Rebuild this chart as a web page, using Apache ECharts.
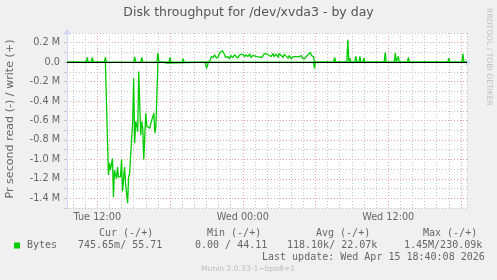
<!DOCTYPE html>
<html><head><meta charset="utf-8">
<script src="https://cdn.jsdelivr.net/npm/echarts@6/dist/echarts.min.js"></script>
<style>html,body{margin:0;padding:0;background:#f0f0f0}#c{width:497px;height:280px}</style>
</head><body><div id="c"></div>
<script>
// ---- data (x = 5-minute slot counted from Tue 00:00; y = bytes per second) ----
const chartTitle = 'Disk throughput for /dev/xvda3 - by day';
const yAxisTitle = 'Pr second read (-) / write (+)';
const xRange = [114, 510];                 // Tue 09:30 .. Wed 18:30
const xTickSlots = [144, 288, 432];
const xTickLabels = ['Tue 12:00', 'Wed 00:00', 'Wed 12:00'];
const yRange = [-1500000, 300000];
const yTickValues = [200000, 0, -200000, -400000, -600000, -800000, -1000000, -1200000, -1400000];
const yTickLabels = ['0.2 M', '0.0', '-0.2 M', '-0.4 M', '-0.6 M', '-0.8 M', '-1.0 M', '-1.2 M', '-1.4 M'];
const seriesName = 'Bytes';
const readPoints = [
  [114,0],[152,0],[153,0],[155,1160000],[156,1040000],[157,1110000],[159,990000],[160,1390000],
  [161,1110000],[163,1200000],[164,1080000],[165,1180000],[167,1180000],[168,1000000],[169,1330000],
  [171,1080000],[172,1250000],[174,1450000],[175,1180000],[176,1140000],[177,1130000],[179,610000],
  [180,165000],[181,835000],[182,610000],[183,646000],[184,715000],[185,97000],[187,750000],
  [188,610000],[189,680000],[190,1000000],[192,526000],[193,660000],[194,650000],[196,680000],
  [197,630000],[198,595000],[200,526000],[201,730000],[202,660000],[204,0],[209,0],[210,10000],
  [213,10000],[214,0],[251,0],[252,62000],[253,40000],[254,0],[358,0],[359,65000],[360,0],[510,0]
];
const writePoints = [
  [114,0],[133,0],[134,50000],[135,0],[138,0],[139,50000],[140,0],[151,0],[152,50000],[153,0],
  [180,0],[181,55000],[182,0],[187,0],[188,50000],[189,0],[203,0],[204,93000],[205,0],
  [215,0],[216,50000],[217,0],[228,0],[229,35000],[230,0],
  [254,0],[256,24000],[257,58000],[259,48000],[260,76000],[262,41000],[264,58000],[265,93000],
  [268,117000],[270,76000],[271,48000],[273,58000],[275,34000],[276,69000],[278,48000],[280,76000],
  [281,58000],[283,41000],[285,76000],[286,58000],[288,83000],[290,55000],[291,76000],[293,58000],
  [295,86000],[296,48000],[298,69000],[299,62000],[302,58000],[304,55000],[307,48000],[309,83000],
  [311,89000],[313,76000],[314,83000],[316,58000],[318,89000],[319,58000],[321,83000],[323,48000],
  [324,89000],[326,69000],[328,48000],[329,83000],[331,62000],[333,41000],[334,69000],[336,34000],
  [338,58000],[339,76000],[341,58000],[342,69000],[344,55000],[346,69000],[347,41000],[349,34000],
  [351,58000],[352,69000],[355,103000],[356,69000],[358,55000],[359,0],
  [378,0],[379,50000],[380,0],[391,0],[392,230000],[393,8000],[394,40000],[395,0],
  [399,0],[400,60000],[401,0],[403,0],[404,60000],[405,0],[407,0],[408,40000],[409,0],
  [428,0],[429,100000],[430,0],[438,0],[439,93000],[440,0],[441,0],[442,60000],[443,0],
  [451,0],[452,50000],[453,0],[491,0],[492,40000],[493,0],[505,0],[506,85000],[507,0],[510,0]
];
const statHeaders = ['Cur (-/+)', 'Min (-/+)', 'Avg (-/+)', 'Max (-/+)'];
const statValues = ['745.65m/ 55.71', '0.00 / 44.11', '118.10k/ 22.07k', '1.45M/230.09k'];
const lastUpdate = 'Last update: Wed Apr 15 18:40:08 2026';
const footerText = 'Munin 2.0.33-1~bpo8+1';
const sideText = 'RRDTOOL / TOBI OETIKER';

// ---- layout / style ----
const headerX = [99, 207, 316, 423];
const valueX = [78, 195, 287, 404];
const GREEN = '#00cc00', TXT = '#666666', AX = '#cfd6f8';
const GRID_G = '#c4c4c4', GRID_R = '#eba3a3';
const SANS = 'DejaVu Sans', MONO = 'DejaVu Sans Mono';

const chart = echarts.init(document.getElementById('c'), null, {renderer: 'canvas'});

const graphics = [
  {type: 'text', x: 248.5, y: 12.5, style: {text: chartTitle, font: '12.5px "' + SANS + '"', fill: '#555', textAlign: 'center', textVerticalAlign: 'middle'}},
  {type: 'text', x: 10, y: 119, rotation: Math.PI / 2, style: {text: yAxisTitle, font: '11.1px "' + SANS + '"', fill: TXT, textAlign: 'center', textVerticalAlign: 'middle'}},
  {type: 'text', x: 489, y: 57, rotation: -Math.PI / 2, style: {text: sideText, font: '7.6px "' + SANS + '"', fill: '#c0c0c0', textAlign: 'center', textVerticalAlign: 'middle'}},
  {type: 'text', x: 248, y: 269, style: {text: footerText, font: '7.6px "' + SANS + '"', fill: '#bdbdbd', textAlign: 'center', textVerticalAlign: 'middle'}},
  {type: 'text', x: 262, y: 257.5, style: {text: lastUpdate, font: '10px "' + MONO + '"', fill: TXT, textAlign: 'left', textVerticalAlign: 'middle'}}
];
statHeaders.forEach((t, i) => graphics.push({type: 'text', x: headerX[i], y: 233.5, style: {text: t, font: '10px "' + MONO + '"', fill: TXT, textAlign: 'left', textVerticalAlign: 'middle'}}));
statValues.forEach((t, i) => graphics.push({type: 'text', x: valueX[i], y: 245.5, style: {text: t, font: '10px "' + MONO + '"', fill: TXT, textAlign: 'left', textVerticalAlign: 'middle'}}));

const option = {
  animation: false,
  backgroundColor: '#f0f0f0',
  grid: {left: 67, top: 33, width: 400, height: 175, show: true, backgroundColor: '#ffffff', borderWidth: 0, containLabel: false, outerBoundsMode: 'none'},
  legend: {
    data: [seriesName], left: 14, top: 239.5, padding: 0, icon: 'rect', itemWidth: 6, itemHeight: 6, itemGap: 0,
    textStyle: {fontFamily: MONO, fontSize: 10, color: TXT, padding: [0, 0, 0, 2], lineHeight: 12},
    selectedMode: false
  },
  xAxis: {
    type: 'value', min: xRange[0], max: xRange[1], minInterval: 12, maxInterval: 12,
    axisLine: {show: true, lineStyle: {color: AX, width: 1}, symbol: ['none', 'arrow'], symbolSize: [6, 6], symbolOffset: [0, 4]},
    axisTick: {show: true, length: 2, lineStyle: {color: '#c8c8c8'}},
    axisLabel: {
      margin: 4, fontFamily: SANS, fontSize: 9.7, color: TXT,
      formatter: v => { const i = xTickSlots.indexOf(Math.round(v)); return (i >= 0 && Math.abs(v - xTickSlots[i]) < 1e-6) ? xTickLabels[i] : ''; }
    },
    splitLine: {show: true, lineStyle: {color: [GRID_G, GRID_G, GRID_G, GRID_R, GRID_G, GRID_G], type: [1, 2], width: 1}}
  },
  yAxis: {
    type: 'value', min: yRange[0], max: yRange[1], interval: 100000,
    axisLine: {show: true, lineStyle: {color: AX, width: 1}, symbol: ['none', 'arrow'], symbolSize: [6, 6], symbolOffset: [0, 4]},
    axisTick: {show: true, length: 3, lineStyle: {color: '#c8c8c8'}},
    axisLabel: {
      margin: 7, fontFamily: SANS, fontSize: 9.7, color: TXT,
      formatter: v => { const i = yTickValues.indexOf(Math.round(v)); return i >= 0 ? yTickLabels[i] : ''; }
    },
    splitLine: {show: true, lineStyle: {color: [GRID_G, GRID_R], type: [1, 2], width: 1}}
  },
  series: [
    {
      name: seriesName, type: 'line', showSymbol: false, symbol: 'none', color: GREEN,
      lineStyle: {color: GREEN, width: 1.3}, data: readPoints.map(p => [p[0], -p[1]]),
      markLine: {silent: true, symbol: ['none', 'none'], label: {show: false}, lineStyle: {color: '#000', type: 'solid', width: 1}, data: [{yAxis: 0}]}
    },
    {
      name: seriesName, type: 'line', showSymbol: false, symbol: 'none', color: GREEN,
      lineStyle: {color: GREEN, width: 1.3}, data: writePoints.map(p => [p[0], p[1]])
    }
  ],
  graphic: graphics
};
chart.setOption(option);
</script></body></html>
